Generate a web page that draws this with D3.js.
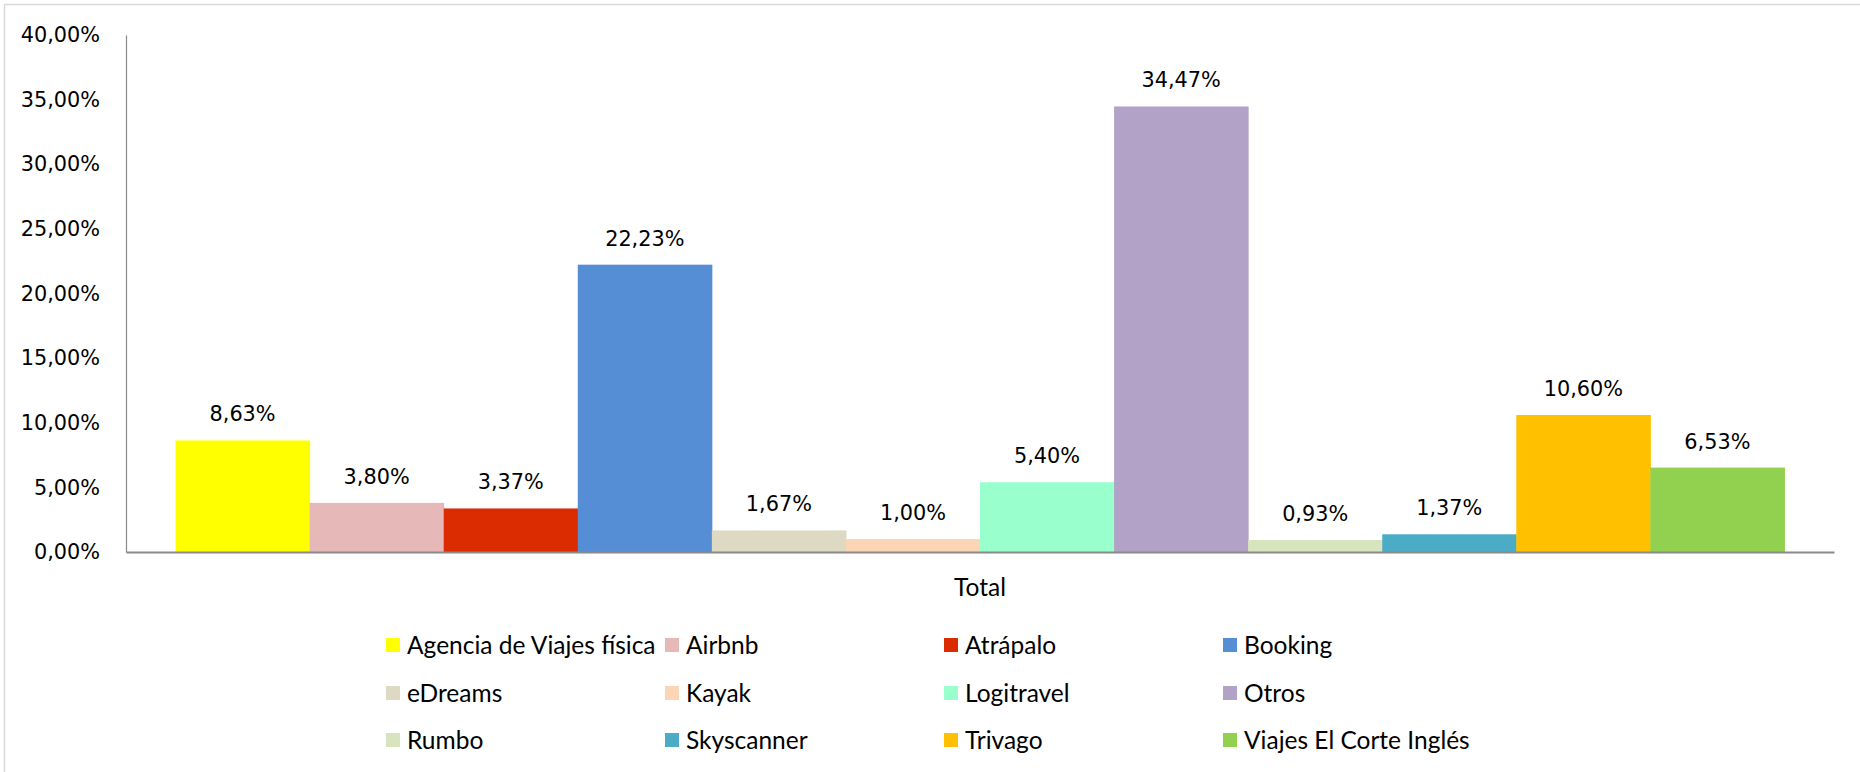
<!DOCTYPE html>
<html>
<head>
<meta charset="utf-8">
<script src="https://cdn.jsdelivr.net/npm/d3@7"></script>
<style>
  body { margin: 0; background: #fff; }
  svg { display: block; }
</style>
</head>
<body>
<div id="viz"></div>
<script>
// data
var categories = ["Total"];
var series = ["Agencia de Viajes física", "Airbnb", "Atrápalo", "Booking",
              "eDreams", "Kayak", "Logitravel", "Otros",
              "Rumbo", "Skyscanner", "Trivago", "Viajes El Corte Inglés"];
var values = [0.0863, 0.0380, 0.0337, 0.2223, 0.0167, 0.0100,
              0.0540, 0.3447, 0.0093, 0.0137, 0.1060, 0.0653];
var colors = ["#FFFF00", "#E6B9B8", "#DA2C00", "#558ED5",
              "#DDD9C3", "#FCD5B5", "#99FFCC", "#B3A2C7",
              "#D7E4BD", "#4BACC6", "#FFC000", "#92D050"];
var yTicks = [0, 0.05, 0.10, 0.15, 0.20, 0.25, 0.30, 0.35, 0.40];

var W = 1860, H = 772;
const margin = {top: 35, right: 26, bottom: 220, left: 126},
  width = W - margin.left - margin.right,
  height = H - margin.top - margin.bottom;

var es = d3.formatLocale({decimal: ",", thousands: ".", grouping: [3], currency: ["", " €"]});
var pct = es.format(".2%");

const root = d3.select("#viz")
  .append("svg")
    .attr("width", W)
    .attr("height", H);

// outer frame
root.append("rect")
  .attr("x", 4.5).attr("y", 4.5)
  .attr("width", W + 20).attr("height", H + 20)
  .attr("fill", "none")
  .attr("stroke", "#d9d9d9")
  .attr("stroke-width", 1.5);

const svg = root.append("g")
  .attr("transform", `translate(${margin.left},${margin.top})`);

// scales
const x0 = d3.scaleBand()
  .domain(categories)
  .range([0, width])
  .paddingInner(0)
  .paddingOuter(0.0308);

const x1 = d3.scaleBand()
  .domain(series)
  .range([0, x0.bandwidth()]);

const y = d3.scaleLinear()
  .domain([0, 0.4])
  .range([height, 0]);

// Y axis
const yAxis = svg.append("g")
  .call(d3.axisLeft(y).tickValues(yTicks).tickFormat(pct).tickSize(0).tickPadding(26));
yAxis.select(".domain").attr("stroke", "#898989").attr("stroke-width", 1.2);
yAxis.selectAll("text")
  .attr("font-family", "DejaVu Sans")
  .attr("font-size", 20.8)
  .attr("fill", "#000");

// bars
const group = svg.append("g")
  .attr("transform", `translate(${x0("Total")},0)`);

group.selectAll("rect")
  .data(series)
  .join("rect")
    .attr("x", d => x1(d))
    .attr("y", (d, i) => y(values[i]))
    .attr("width", x1.bandwidth() + 0.5)
    .attr("height", (d, i) => height - y(values[i]))
    .attr("fill", (d, i) => colors[i]);

group.selectAll("text.lbl")
  .data(series)
  .join("text")
    .attr("class", "lbl")
    .attr("x", d => x1(d) + x1.bandwidth() / 2)
    .attr("y", (d, i) => y(values[i]) - 19)
    .attr("text-anchor", "middle")
    .attr("font-family", "DejaVu Sans")
    .attr("font-size", 20.8)
    .attr("fill", "#000")
    .text((d, i) => pct(values[i]));

// X axis
const xAxis = svg.append("g")
  .attr("transform", `translate(0,${height})`)
  .call(d3.axisBottom(x0).tickSize(0).tickPadding(27));
xAxis.select(".domain").attr("stroke", "#898989").attr("stroke-width", 2);
xAxis.selectAll("text")
  .attr("font-family", "Lato")
  .attr("font-size", 24.5)
  .attr("fill", "#000");

// legend
const legend = root.append("g");
const colX = [386, 665, 944, 1223];
const rowY = [645, 693, 740];

const item = legend.selectAll("g")
  .data(series)
  .join("g")
    .attr("transform", (d, i) => `translate(${colX[i % 4]},${rowY[Math.floor(i / 4)]})`);

item.append("rect")
  .attr("x", 0).attr("y", -7)
  .attr("width", 14).attr("height", 14)
  .attr("fill", (d, i) => colors[i]);

item.append("text")
  .attr("x", 21)
  .attr("y", 8.5)
  .attr("font-family", "Lato")
  .attr("font-size", 24.5)
  .attr("fill", "#000")
  .text(d => d);
</script>
</body>
</html>
